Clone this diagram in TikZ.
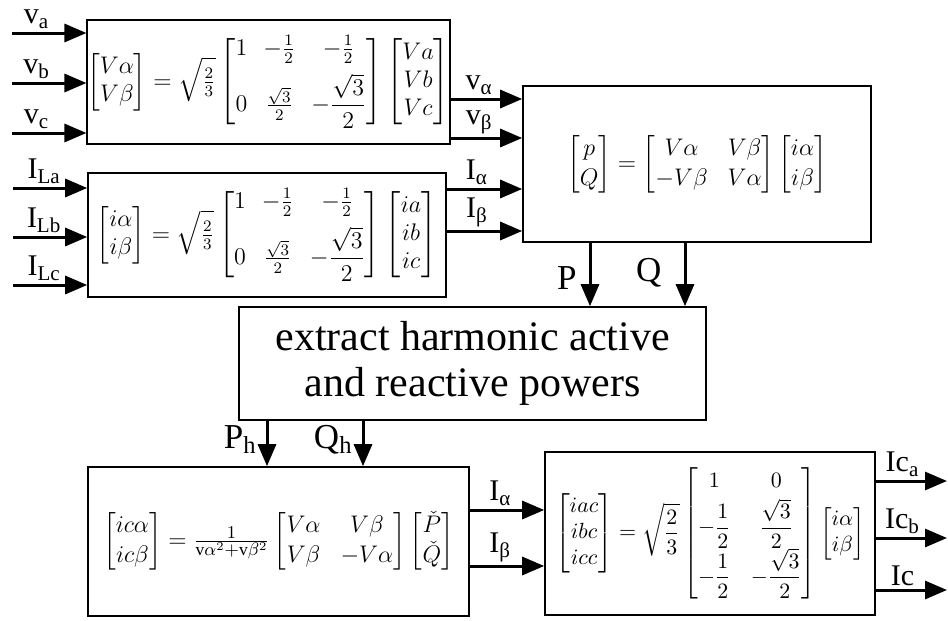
\documentclass[tikz,border=0pt]{standalone}
\usepackage{fontspec}
\setmainfont{Liberation Serif}
\usepackage{amsmath}
\usetikzlibrary{positioning, arrows.meta}

\begin{document}
\begin{tikzpicture}[
  x=0.5pt, y=-0.5pt,
  >={Triangle[length=11pt, width=9pt]},
  %% Node styles
  block/.style={
    draw, line width=0.8pt, inner sep=0pt, align=center,
    font=\fontsize{11}{13}\selectfont
  },
  textblock/.style={
    block, font=\fontsize{21}{23}\selectfont
  },
  lbl/.style={font=\fontsize{15}{17}\selectfont, inner sep=1.5pt},
  biglbl/.style={font=\fontsize{17.5}{19}\selectfont, inner sep=6pt},
  sublbl/.style={font=\fontsize{17.5}{19}\selectfont, inner sep=0.5pt},
  %% Connector styles
  sig/.style={->, line width=1.5pt},
]

\useasboundingbox (0,0) rectangle (948,621);

%% ── CLARKE TRANSFORMS ─────────────────────────────────────────────────────
\node[block, minimum width=178.5pt, minimum height=62pt, font=\fontsize{11.5}{14}\selectfont] (vbox) at (268.5, 82)
  {\setlength{\arraycolsep}{4pt}$\displaystyle
   \begin{bmatrix}V\alpha\\ V\beta\end{bmatrix}
   =\sqrt{\tfrac{2}{3}}
   \begin{bmatrix}1 & -\frac{1}{2} & -\frac{1}{2}\\[5pt] 0 & \frac{\sqrt{3}}{2} & -\dfrac{\sqrt{3}}{2}\end{bmatrix}
   \begin{bmatrix}Va\\ Vb\\ Vc\end{bmatrix}$};
\node[block, minimum width=179pt, minimum height=62pt, font=\fontsize{11.5}{14}\selectfont] (ibox) at (267, 235)
  {\setlength{\arraycolsep}{4pt}$\displaystyle
   \begin{bmatrix}i\alpha\\ i\beta\end{bmatrix}
   =\sqrt{\tfrac{2}{3}}
   \begin{bmatrix}1 & -\frac{1}{2} & -\frac{1}{2}\\[5pt] 0 & \frac{\sqrt{3}}{2} & -\dfrac{\sqrt{3}}{2}\end{bmatrix}
   \begin{bmatrix}ia\\ ib\\ ic\end{bmatrix}$};

%% Inputs
\coordinate (va) at (12, 33);
\coordinate (vb) at (12, 83);
\coordinate (vc) at (12, 133);
\coordinate (ila) at (13, 188);
\coordinate (ilb) at (13, 237);
\coordinate (ilc) at (13, 285);

\draw[sig] (va) -- (va -| vbox.west) node[lbl, above, pos=0.33] (lva) {v\textsubscript{a}};
\draw[sig] (vb) -- (vb -| vbox.west) node[lbl, above, pos=0.33] (lvb) {v\textsubscript{b}};
\draw[sig] (vc) -- (vc -| vbox.west) node[lbl, above, pos=0.33] (lvc) {v\textsubscript{c}};
\draw[sig] (ila) -- (ila -| ibox.west) node[lbl, above, pos=0.42] (lila) {I\textsubscript{La}};
\draw[sig] (ilb) -- (ilb -| ibox.west) node[lbl, above, pos=0.42] (lilb) {I\textsubscript{Lb}};
\draw[sig] (ilc) -- (ilc -| ibox.west) node[lbl, above, pos=0.42] (lilc) {I\textsubscript{Lc}};

%% ── INSTANTANEOUS POWERS ─────────────────────────────────────────────────
\node[block, minimum width=174pt, minimum height=78pt, font=\fontsize{12.5}{15}\selectfont] (pqbox) at (697, 164)
  {$\displaystyle
   \begin{bmatrix}p\\ Q\end{bmatrix}
   =\begin{bmatrix}V\alpha & V\beta\\ -V\beta & V\alpha\end{bmatrix}
   \begin{bmatrix}i\alpha\\ i\beta\end{bmatrix}$};

\coordinate (valf) at ([yshift=-8.5pt]vbox.east);
\coordinate (vbet) at ([yshift=-28pt]vbox.east);
\coordinate (ialf) at ([yshift=23pt]ibox.east);
\coordinate (ibet) at ([yshift=2pt]ibox.east);

\draw[sig] (valf) -- (valf -| pqbox.west) node[lbl, above, pos=0.4] (lvalf) {v\textsubscript{α}};
\draw[sig] (vbet) -- (vbet -| pqbox.west) node[lbl, above, pos=0.4] (lvbet) {v\textsubscript{β}};
\draw[sig] (ialf) -- (ialf -| pqbox.west) node[lbl, above, pos=0.4] (lialf) {I\textsubscript{α}};
\draw[sig] (ibet) -- (ibet -| pqbox.west) node[lbl, above, pos=0.4] (libet) {I\textsubscript{β}};

%% ── HARMONIC EXTRACTION ──────────────────────────────────────────────────
\node[textblock, minimum width=233.5pt, minimum height=56.5pt] (extract) at (472.5, 363.5)
  {extract harmonic active\\and reactive powers};

\coordinate (pout) at ([xshift=-53.5pt]pqbox.south);
\coordinate (qout) at ([xshift=-6pt]pqbox.south);

\draw[sig] (pout) -- (pout |- extract.north) node[biglbl, left, pos=0.55] (lp) {P};
\draw[sig] (qout) -- (qout |- extract.north) node[biglbl, left, pos=0.48, xshift=-5pt] (lq) {Q};

%% ── COMPENSATING CURRENTS ────────────────────────────────────────────────
\node[block, minimum width=190.5pt, minimum height=74.5pt, font=\fontsize{12.5}{15}\selectfont] (hbox) at (278.5, 541.5)
  {$\displaystyle
   \begin{bmatrix}ic\alpha\\ ic\beta\end{bmatrix}
   =\tfrac{1}{\mathrm{v}\alpha^2+\mathrm{v}\beta^2}
   \begin{bmatrix}V\alpha & V\beta\\ V\beta & -V\alpha\end{bmatrix}
   \begin{bmatrix}\check{P}\\ \check{Q}\end{bmatrix}$};

\coordinate (phin) at ([xshift=-102.75pt]extract.south);
\coordinate (qhin) at ([xshift=-54.75pt]extract.south);

\draw[sig] (phin) -- (phin |- hbox.north) node[sublbl, left, pos=0.42, xshift=-4pt] (lph) {P\textsubscript{h}};
\draw[sig] (qhin) -- (qhin |- hbox.north) node[sublbl, left, pos=0.42, xshift=-4pt] (lqh) {Q\textsubscript{h}};

%% ── INVERSE TRANSFORM ────────────────────────────────────────────────────
\node[block, minimum width=165pt, minimum height=81.5pt] (cbox) at (710, 533.5)
  {$\displaystyle
   \begin{bmatrix}iac\\ ibc\\ icc\end{bmatrix}
   =\sqrt{\dfrac{2}{3}}
   \begin{bmatrix}1 & 0\\[2pt] -\dfrac{1}{2} & \dfrac{\sqrt{3}}{2}\\[2pt] -\dfrac{1}{2} & -\dfrac{\sqrt{3}}{2}\end{bmatrix}
   \begin{bmatrix}i\alpha\\ i\beta\end{bmatrix}$};

\coordinate (icalf) at ([yshift=15.75pt]hbox.east);
\coordinate (icbet) at ([yshift=-12.25pt]hbox.east);

\draw[sig] (icalf) -- (icalf -| cbox.west) node[lbl, above, pos=0.41] (licalf) {I\textsubscript{α}};
\draw[sig] (icbet) -- (icbet -| cbox.west) node[lbl, above, pos=0.41] (licbet) {I\textsubscript{β}};

%% Outputs
\coordinate (rim) at (947, 0);
\coordinate (ica) at ([yshift=26.25pt]cbox.east);
\coordinate (icb) at ([yshift=-2.25pt]cbox.east);
\coordinate (icc) at ([yshift=-28.25pt]cbox.east);

\draw[sig] (ica) -- (ica -| rim) node[lbl, above, pos=0.375] (lica) {Ic\textsubscript{a}};
\draw[sig] (icb) -- (icb -| rim) node[lbl, above, pos=0.375] (licb) {Ic\textsubscript{b}};
\draw[sig] (icc) -- (icc -| rim) node[lbl, above, pos=0.375] (licc) {Ic};

\end{tikzpicture}
\end{document}
